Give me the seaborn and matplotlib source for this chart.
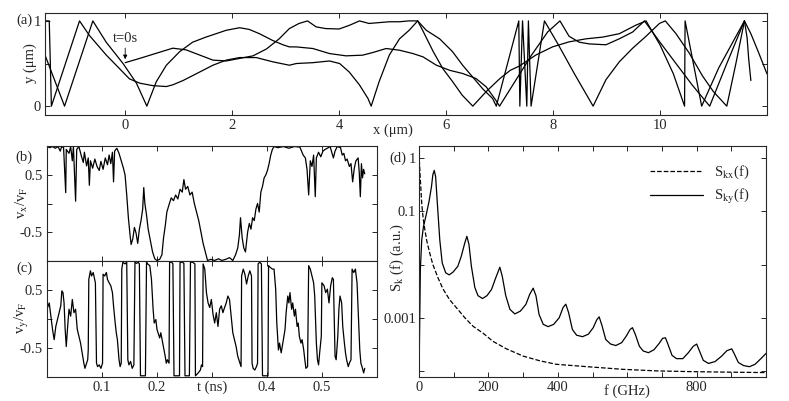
import numpy as np
import pandas as pd
import matplotlib
matplotlib.use("Agg")
import matplotlib.pyplot as plt
import seaborn as sns

sns.set_style("ticks")
plt.rcParams["font.family"] = ["Liberation Serif", "DejaVu Serif"]
plt.rcParams["mathtext.fontset"] = "stix"
plt.rcParams["axes.unicode_minus"] = False
plt.rcParams["font.size"] = 10.5

# (a) trajectory pieces, x and y in um
path1_x = [0.0, 0.27, 0.58, 0.89, 1.14, 1.39, 1.64, 1.89, 2.14, 2.39, 2.64, 2.88, 3.07, 3.25, 3.41,
           3.57, 3.75, 4.0, 4.2, 4.38, 4.56, 4.75, 4.94, 5.13, 5.3, 5.47, 5.57, 5.76, 5.94, 6.12,
           6.3, 6.5, 6.75, 7.0, 7.2, 7.37, 7.68, 7.99, 8.3, 8.62, 8.93, 9.24, 9.55, 9.74, 10.0,
           10.25, 10.46, 10.47, 10.78, 11.1, 11.58]
path1_y = [0.51, 0.56, 0.62, 0.68, 0.66, 0.60, 0.54, 0.53, 0.56, 0.59, 0.67, 0.79, 0.91, 0.97, 1.0,
           0.93, 0.91, 0.905, 0.95, 1.0, 0.97, 0.98, 0.99, 0.99, 1.0, 1.0, 0.88, 0.64, 0.44, 0.29,
           0.13, 0.0, 0.17, 0.32, 0.42, 0.47, 0.6, 0.695, 0.754, 0.79, 0.81, 0.85, 0.95, 1.0, 0.72,
           0.38, 0.0, 1.0, 0.0, 0.45, 1.0]

path2_x = [-1.5, -1.42, -1.38, -0.854, -0.67, -0.355, -0.106, 0.08, 0.27, 0.52, 0.77, 0.89, 1.08,
           1.33, 1.64, 1.89, 2.14, 2.45, 2.76, 3.07, 3.2, 3.51, 3.82, 4.01, 4.19, 4.38, 4.54, 4.6,
           4.75, 4.94, 5.13, 5.31, 5.47, 5.63, 5.88, 6.12, 6.31, 6.5, 6.69, 6.87, 6.94, 7.36, 7.38,
           7.43, 7.51, 7.54, 7.59, 7.84, 8.1, 8.4, 8.75, 8.99, 9.24, 9.49, 9.74, 9.99, 10.1, 10.3,
           10.55, 10.8, 11.0, 11.25, 11.42, 11.58, 11.7, 11.85, 12.0]
path2_y = [1.0, 1.0, 0.0, 1.0, 0.83, 0.6, 0.44, 0.32, 0.27, 0.24, 0.23, 0.25, 0.30,
           0.38, 0.48, 0.54, 0.57, 0.57, 0.52, 0.48, 0.5, 0.51, 0.53, 0.5, 0.40, 0.25, 0.09, 0.0,
           0.29, 0.6, 0.79, 0.89, 1.0, 0.89, 0.79, 0.64, 0.48, 0.34, 0.2, 0.09, 0.0, 1.0, 0.0,
           1.0, 0.0, 1.0, 0.0, 1.0, 0.72, 0.38, 0.0, 0.31, 0.52, 0.68, 0.82, 0.97, 1.0, 0.85,
           0.62, 0.35, 0.17, 0.0, 0.5, 1.0, 0.85, 0.62, 0.38]

path3_x = [-1.5, -1.134, -0.605, -0.355, -0.04, 0.21, 0.405, 0.58, 0.77, 1.02, 1.26, 1.51, 1.7,
           1.89, 2.14, 2.32, 2.51, 2.76, 2.95, 3.07, 3.2, 3.51, 3.82, 4.13, 4.44, 4.63, 4.88, 5.13,
           5.38, 5.57, 5.82, 6.07, 6.31, 6.56, 6.75, 6.93, 7.0, 7.3, 7.6, 7.9, 8.13, 8.3, 8.49,
           8.68, 8.99, 9.24, 9.49, 9.71, 10.0, 10.3, 10.6, 10.93, 11.25, 11.58, 11.63, 11.66, 11.7]
path3_y = [0.6, 0.0, 1.0, 0.75, 0.5, 0.27, 0.0, 0.285, 0.48, 0.64, 0.75, 0.81, 0.85,
           0.89, 0.92, 0.9, 0.85, 0.77, 0.72, 0.695, 0.695, 0.676, 0.617, 0.59, 0.598, 0.629, 0.676, 0.656,
           0.617, 0.578, 0.48, 0.42, 0.383, 0.324, 0.227, 0.07, 0.0, 0.3, 0.6, 0.87, 1.0, 0.82, 0.75,
           0.73, 0.72, 0.79, 0.87, 1.0, 0.75, 0.5, 0.25, 0.0, 0.5, 1.0, 0.8, 0.55, 0.3]

# (b) v_x / v_F against t (ns)
tb = [0.000, 0.005, 0.010, 0.015, 0.020, 0.024, 0.026, 0.030, 0.034, 0.035, 0.040, 0.043, 0.046,
      0.048, 0.052, 0.054, 0.058, 0.062, 0.066, 0.068, 0.072, 0.075, 0.077, 0.079, 0.083, 0.087,
      0.091, 0.095, 0.098, 0.102, 0.106, 0.110, 0.113, 0.116, 0.119, 0.121, 0.123, 0.127, 0.131,
      0.135, 0.139, 0.142, 0.145, 0.148, 0.151, 0.153, 0.156, 0.159, 0.162, 0.165, 0.168, 0.171,
      0.174, 0.176, 0.178, 0.181, 0.184, 0.188, 0.192, 0.196, 0.200, 0.205, 0.209, 0.212, 0.215,
      0.218, 0.222, 0.226, 0.230, 0.234, 0.238, 0.242, 0.246, 0.249, 0.252, 0.256, 0.260, 0.264,
      0.268, 0.272, 0.276, 0.280, 0.284, 0.288, 0.292, 0.298, 0.305, 0.312, 0.318, 0.325, 0.332,
      0.338, 0.343, 0.347, 0.350, 0.352, 0.355, 0.358, 0.361, 0.365, 0.368, 0.371, 0.374, 0.377,
      0.380, 0.383, 0.386, 0.389, 0.392, 0.395, 0.398, 0.401, 0.404, 0.407, 0.410, 0.413, 0.420,
      0.430, 0.440, 0.450, 0.460, 0.466, 0.470, 0.473, 0.476, 0.479, 0.482, 0.485, 0.488, 0.490,
      0.494, 0.498, 0.502, 0.506, 0.510, 0.515, 0.518, 0.521, 0.524, 0.528, 0.534, 0.537, 0.540,
      0.543, 0.546, 0.550, 0.553, 0.556, 0.559, 0.562, 0.566, 0.568, 0.570, 0.572, 0.574, 0.576,
      0.578]
vx = [1.0, 0.98, 1.0, 0.97, 1.0, 0.92, 0.98, 1.0, 0.19, 0.95, 0.88, 1.0, 0.75,
      1.0, 0.04, 0.95, 1.0, 0.85, 0.72, 0.9, 0.66, 0.8, 0.32, 0.75, 0.62, 0.78,
      0.65, 0.58, 0.74, 0.6, 0.8, 0.68, 0.85, 0.7, 0.9, 0.38, 0.92, 0.97, 0.88,
      0.75, 0.62, 0.50, 0.15, -0.25, -0.55, -0.72, -0.62, -0.42, -0.52, -0.7, -0.45, -0.3,
      -0.1, 0.28, 0.0, -0.2, -0.45, -0.65, -0.85, -0.97, -1.0, -0.98, -0.9, -0.6, -0.4,
      -0.15, -0.02, 0.1, 0.05, 0.15, 0.08, 0.25, 0.2, 0.42, 0.25, 0.3, 0.15, 0.2,
      0.0, -0.15, -0.3, -0.5, -0.7, -0.85, -1.0, -0.98, -1.0, -0.97, -1.0, -0.98, -0.95,
      -1.0, -0.9, -0.78, -0.55, -0.25, -0.6, -0.78, -0.85, -0.5, -0.35, -0.45, -0.25, -0.3,
      -0.1, 0.0, -0.15, 0.2, 0.3, 0.45, 0.5, 0.58, 0.7, 0.85, 0.95, 1.0, 0.98,
      1.0, 0.97, 1.0, 0.99, 0.85, 0.8, 0.6, 0.15, 0.75, 0.65, 0.85, 0.12, 0.8,
      0.9, 0.82, 0.92, 0.95, 0.97, 1.0, 0.9, 0.8, 0.92, 1.0, 0.98, 0.85, 0.88,
      0.75, 0.78, 0.65, 0.7, 0.38, 0.62, 0.75, 0.8, 0.55, 0.12, 0.7, 0.45, 0.6,
      0.52]

# (c) v_y / v_F against t (ns)
tc = [0.000, 0.001, 0.004, 0.007, 0.010, 0.013, 0.016, 0.019, 0.022, 0.025, 0.027, 0.029, 0.031,
      0.033, 0.035, 0.038, 0.040, 0.043, 0.046, 0.049, 0.052, 0.055, 0.058, 0.061, 0.064, 0.067,
      0.069, 0.072, 0.074, 0.075, 0.076, 0.079, 0.081, 0.084, 0.086, 0.088, 0.090, 0.092, 0.095,
      0.098, 0.101, 0.102, 0.105, 0.108, 0.110, 0.113, 0.116, 0.119, 0.121, 0.124, 0.126, 0.128,
      0.131, 0.133, 0.135, 0.136, 0.138, 0.142, 0.145, 0.147, 0.149, 0.152, 0.155, 0.158, 0.160,
      0.163, 0.166, 0.168, 0.170, 0.175, 0.179, 0.181, 0.183, 0.187, 0.190, 0.193, 0.195, 0.198,
      0.200, 0.202, 0.205, 0.207, 0.210, 0.212, 0.215, 0.217, 0.219, 0.222, 0.223, 0.227, 0.229,
      0.231, 0.236, 0.241, 0.242, 0.246, 0.249, 0.251, 0.255, 0.259, 0.261, 0.265, 0.269, 0.270,
      0.275, 0.279, 0.281, 0.283, 0.284, 0.287, 0.290, 0.293, 0.296, 0.299, 0.302, 0.305, 0.308,
      0.311, 0.314, 0.317, 0.320, 0.323, 0.326, 0.329, 0.332, 0.335, 0.338, 0.341, 0.344, 0.347,
      0.350, 0.353, 0.354, 0.357, 0.360, 0.363, 0.366, 0.369, 0.372, 0.373, 0.375, 0.378, 0.381,
      0.383, 0.384, 0.387, 0.390, 0.392, 0.398, 0.402, 0.403, 0.406, 0.410, 0.413, 0.416, 0.418,
      0.421, 0.423, 0.426, 0.428, 0.430, 0.433, 0.435, 0.438, 0.440, 0.442, 0.445, 0.447, 0.450,
      0.452, 0.455, 0.457, 0.459, 0.462, 0.464, 0.467, 0.469, 0.471, 0.474, 0.476, 0.479, 0.482,
      0.485, 0.487, 0.490, 0.492, 0.494, 0.496, 0.499, 0.500, 0.504, 0.507, 0.510, 0.513, 0.516,
      0.519, 0.521, 0.524, 0.526, 0.529, 0.531, 0.533, 0.536, 0.538, 0.541, 0.543, 0.545, 0.548,
      0.550, 0.553, 0.555, 0.558, 0.561, 0.564, 0.566, 0.569, 0.571, 0.573, 0.576, 0.578]
vy = [0.34, 0.20, 0.28, 0.05, -0.18, -0.36, -0.13, -0.01, 0.11, 0.23, 0.49, 0.46, 0.28,
      -0.18, -0.48, -0.07, 0.17, 0.05, 0.34, 0.11, 0.17, -0.18, -0.30, -0.42, -0.59, -0.77,
      -0.86, -0.77, -0.71, -0.54, 0.69, 0.84, 0.75, 0.81, 0.72, 0.63, -0.77, -0.83, -0.80,
      -0.86, -0.77, 0.78, 0.75, 0.81, 0.69, 0.63, 0.58, 0.46, 0.23, -0.07, -0.24, -0.36,
      -0.71, -0.83, -0.77, 0.87, 0.99, 0.96, 0.99, -0.71, -0.80, -0.74, -0.86, -0.80, 0.99,
      0.97, 0.99, 0.96, -0.99, -0.99, -0.99, 0.99, 0.96, 0.93, 0.69, 0.17, -0.07, -0.01,
      -0.18, -0.24, -0.33, -0.24, -0.39, -0.48, -0.65, -0.77, -0.71, -0.77, 0.99, 0.99, 0.96,
      -0.99, -0.99, -0.99, 0.99, 0.99, 0.97, -0.99, -0.99, -0.99, 0.99, 0.99, 0.96, -0.99,
      -0.94, -0.89, -0.80, -0.83, 0.96, 0.87, 0.46, 0.28, 0.20, 0.34, 0.08, -0.07, 0.11,
      -0.13, 0.17, 0.23, 0.11, 0.20, 0.28, 0.40, 0.34, 0.05, -0.24, -0.36, -0.48, -0.65,
      -0.74, -0.83, 0.75, 0.87, 0.78, 0.61, 0.75, 0.84, 0.75, -0.77, -0.86, -0.89, -0.83,
      -0.77, 0.96, 0.99, 0.96, -0.99, -0.99, -0.99, 0.93, 0.90, 0.87, 0.87, 0.52, -0.07,
      -0.54, -0.42, -0.59, -0.48, -0.36, -0.18, 0.11, 0.40, 0.28, 0.46, 0.17, 0.28, 0.05,
      0.17, -0.13, -0.07, -0.30, -0.42, -0.36, -0.54, -0.71, -0.86, -0.83, 0.93, 0.87, 0.75,
      0.63, 0.40, -0.42, -0.71, -0.80, -0.59, -0.30, 0.63, 0.58, 0.46, 0.52, 0.28, 0.58,
      0.72, 0.69, -0.65, -0.71, -0.30, 0.17, 0.40, 0.28, -0.13, -0.42, -0.59, -0.71, -0.83,
      -0.77, -0.71, 0.87, 0.81, 0.87, 0.63, 0.17, -0.54, -0.77, -0.83, -0.94, -0.86]

# (d) spectra, f in GHz
f_ky = [1, 4, 8, 13, 21, 29, 36, 40, 44, 48, 53, 60, 67, 77, 87, 98, 112, 122, 132, 138, 144,
        151, 161, 170, 183, 196, 209, 221, 233, 240, 250, 262, 276, 292, 308, 319, 329, 337, 346,
        358, 372, 388, 404, 415, 423, 431, 442, 454, 471, 488, 502, 512, 519, 527, 538, 552, 567,
        584, 598, 608, 615, 623, 635, 646, 661, 677, 692, 702, 710, 717, 729, 742, 760, 776, 790,
        800, 808, 819, 834, 853, 872, 887, 901, 909, 920, 935, 952, 968, 985, 1000]
s_ky = [2e-4, 0.0081, 0.029, 0.052, 0.087, 0.154, 0.29, 0.49, 0.59, 0.45, 0.14, 0.029, 0.0107,
        0.0070, 0.0064, 0.0072, 0.0093, 0.0144, 0.0255, 0.034, 0.024, 0.0093, 0.0037, 0.0026,
        0.0023, 0.0026, 0.0034, 0.0056, 0.0089, 0.0060, 0.0026, 0.00144, 0.00118, 0.00133,
        0.00178, 0.00275, 0.0036, 0.0026, 0.00115, 0.00075, 0.00068, 0.00075, 0.001, 0.00155,
        0.0018, 0.00125, 0.0006, 0.00047, 0.00044, 0.00049, 0.00065, 0.00091, 0.00104, 0.00072,
        0.00039, 0.00032, 0.0003, 0.00034, 0.00046, 0.0006, 0.00065, 0.00049, 0.00029, 0.000237,
        0.00022, 0.00025, 0.00033, 0.00041, 0.00042, 0.00032, 0.000196, 0.00017, 0.00017, 0.00022,
        0.00029, 0.00032, 0.000237, 0.000158, 0.000138, 0.00015, 0.00019, 0.00024, 0.00026,
        0.000205, 0.000144, 0.000126, 0.00012, 0.000133, 0.00017, 0.000214]
f_kx = [1, 4, 8, 12, 17, 23, 31, 40, 55, 69, 88, 108, 132, 156, 185, 213, 252, 300, 348, 396,
        492, 588, 685, 781, 877, 1000]
s_kx = [0.93, 0.39, 0.14, 0.075, 0.045, 0.027, 0.0165, 0.01, 0.0056, 0.0035, 0.0022, 0.00154,
        0.001, 0.00069, 0.00051, 0.00036, 0.00026, 0.00019, 0.000155, 0.000133, 0.000119,
        0.000107, 0.0001, 0.000097, 0.000095, 0.000093]

fig = plt.figure(figsize=(7.89, 4.01), dpi=100)
ax_a = fig.add_axes([0.057, 0.713, 0.915, 0.254])
ax_b = fig.add_axes([0.0596, 0.349, 0.418, 0.287])
ax_c = fig.add_axes([0.0596, 0.060, 0.418, 0.289])
ax_d = fig.add_axes([0.531, 0.060, 0.440, 0.576])

lw = 0.9
for px, py in [(path1_x, path1_y), (path2_x, path2_y), (path3_x, path3_y)]:
    sns.lineplot(x=px, y=py, sort=False, estimator=None, color="black", lw=lw, ax=ax_a)
sns.lineplot(x=tb, y=vx, sort=False, estimator=None, color="black", lw=lw, ax=ax_b)
sns.lineplot(x=tc, y=vy, sort=False, estimator=None, color="black", lw=lw, ax=ax_c)
sns.lineplot(x=f_kx, y=s_kx, sort=False, estimator=None, color="black", lw=lw,
             linestyle="--", label=r"S$_\mathrm{kx}$(f)", ax=ax_d)
sns.lineplot(x=f_ky, y=s_ky, sort=False, estimator=None, color="black", lw=lw,
             label=r"S$_\mathrm{ky}$(f)", ax=ax_d)

for ax in [ax_a, ax_b, ax_c, ax_d]:
    ax.tick_params(direction="in", top=True, right=True, length=3.5, width=0.7,
                   labelsize=10.5, pad=3)
    ax.tick_params(which="minor", length=0)
    for s in ax.spines.values():
        s.set_linewidth(0.8)
    ax.set_xlabel("")
    ax.set_ylabel("")

# (a)
ax_a.set_xlim(-1.5, 12)
ax_a.set_ylim(-0.105, 1.09)
ax_a.set_xticks([0, 2, 4, 6, 8, 10])
ax_a.set_yticks([0, 0.5, 1])
ax_a.set_yticklabels(["0", "", "1"])
ax_a.text(5.0, -0.08, "x (μm)", transform=ax_a.get_xaxis_transform(), ha="center", va="top")
ax_a.annotate("t=0s", xy=(0, 0.55), xytext=(0, 0.72), ha="center", va="bottom",
              arrowprops=dict(arrowstyle="-|>", lw=0.6, color="black", mutation_scale=6,
                              shrinkA=0, shrinkB=0))

# (b), (c)
for ax in [ax_b, ax_c]:
    ax.set_xlim(0, 0.6)
    ax.set_ylim(-1.01, 1.01)
    ax.set_xticks([0.1, 0.2, 0.3, 0.4, 0.5])
    ax.set_yticks([-0.5, 0, 0.5])
    ax.set_yticklabels(["-0.5", "", "0.5"])
ax_b.set_xticklabels([])
ax_c.set_xticklabels(["0.1", "0.2", "", "0.4", "0.5"])
ax_c.text(0.3, -0.03, "t (ns)", transform=ax_c.get_xaxis_transform(), ha="center", va="top")

# (d)
ax_d.set_yscale("log")
ax_d.set_xlim(0, 1000)
ax_d.set_ylim(7.7e-5, 1.7)
ax_d.set_xticks(list(range(0, 1001, 100)))
ax_d.set_xticklabels(["0", "", "200", "", "400", "", "", "", "800", "", ""])
ax_d.set_yticks([1e-4, 1e-3, 1e-2, 1e-1, 1])
ax_d.set_yticklabels(["", "0.001", "", "0.1", "1"])
ax_d.tick_params(axis="y", pad=2)
ax_d.text(600, -0.03, "f (GHz)", transform=ax_d.get_xaxis_transform(), ha="center", va="top")
ax_d.legend(loc="upper right", frameon=False, handlelength=3.6, fontsize=10.5,
            bbox_to_anchor=(0.99, 0.98), labelspacing=0.4)

# labels
fig.text(24 / 789, 1 - 20 / 401, "(a)", ha="center", va="center")
fig.text(24 / 789, 1 - 157 / 401, "(b)", ha="center", va="center")
fig.text(24 / 789, 1 - 268 / 401, "(c)", ha="center", va="center")
fig.text(398 / 789, 1 - 158 / 401, "(d)", ha="center", va="center")
fig.text(30 / 789, 1 - 63 / 401, "y (μm)", rotation=90, ha="center", va="center")
fig.text(22 / 789, 1 - 203 / 401, r"v$_\mathrm{x}$/v$_\mathrm{F}$", rotation=90,
         ha="center", va="center")
fig.text(22 / 789, 1 - 318 / 401, r"v$_\mathrm{y}$/v$_\mathrm{F}$", rotation=90,
         ha="center", va="center")
fig.text(397 / 789, 1 - 258 / 401, r"S$_\mathrm{k}$ (f) (a.u.)", rotation=90,
         ha="center", va="center")

fig.savefig("out.png", dpi=100)
